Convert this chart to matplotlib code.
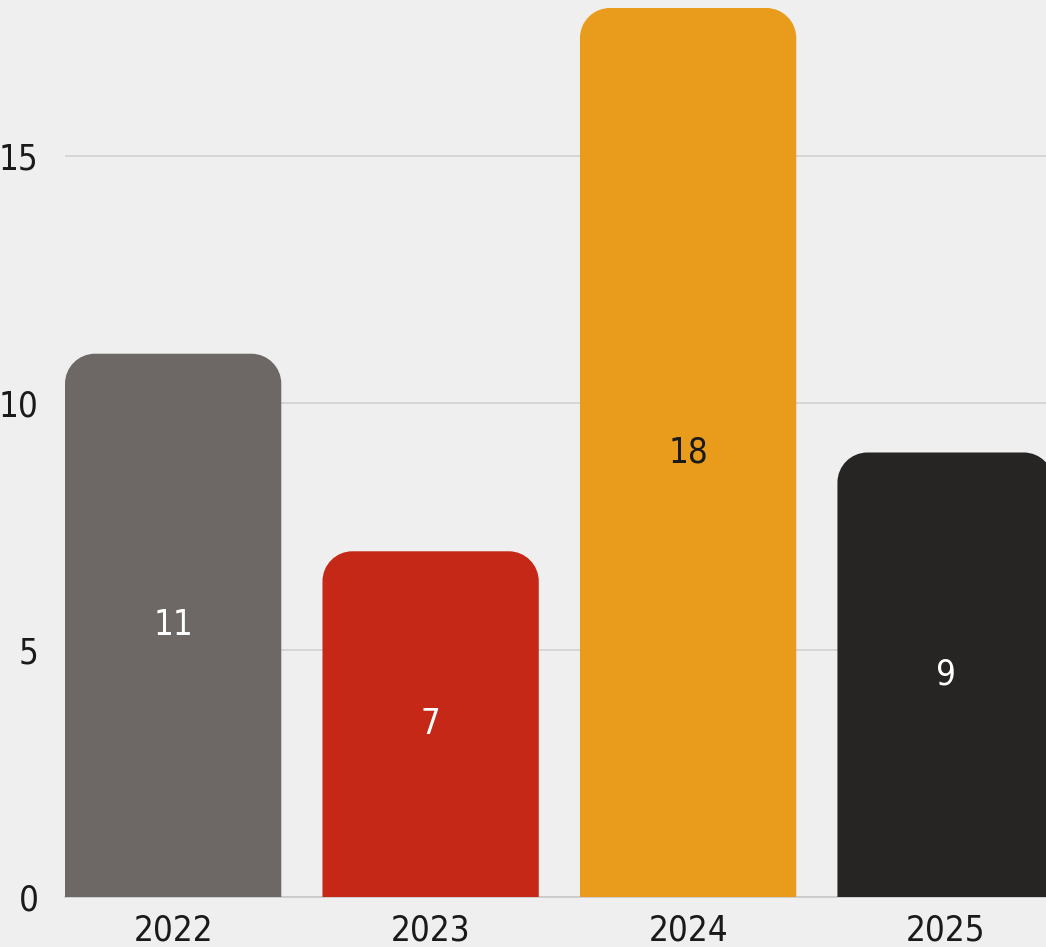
import matplotlib.pyplot as plt
from matplotlib.path import Path
from matplotlib.patches import PathPatch
from matplotlib import font_manager

years = ["2022", "2023", "2024", "2025"]
counts = [11, 7, 18, 9]
bar_colors = ["#6d6865", "#c52817", "#e99c1c", "#262523"]
label_colors = ["white", "white", "#1a1a1a", "white"]

W, H = 1046, 947
fig = plt.figure(figsize=(W / 100, H / 100), dpi=100)
fig.patch.set_facecolor("#efefef")
ax = fig.add_axes([65 / W, 50 / H, (W - 65) / W, (897 - 8) / H])
ax.set_facecolor("none")

# pick a narrow face if one is around
names = {f.name for f in font_manager.fontManager.ttflist}
fam = [n for n in ["Liberation Sans Narrow", "DejaVu Sans"] if n in names]
font = dict(family=fam, size=25, color="#1a1a1a", stretch="condensed")

bar_w = 0.84
ax.set_xlim(-bar_w / 2, 3.39)
ax.set_ylim(0, 18)

# pixel radius of the rounded top corners -> data units
px_x = (W - 65) / (3.39 + bar_w / 2)
px_y = (897 - 8) / 18
r = 30
rx, ry = r / px_x, r / px_y
k = 0.5523

for i, (v, c, lc) in enumerate(zip(counts, bar_colors, label_colors)):
    x0, x1 = i - bar_w / 2, i + bar_w / 2
    verts = [
        (x0, 0), (x0, v - ry),
        (x0, v - ry + k * ry), (x0 + rx - k * rx, v), (x0 + rx, v),
        (x1 - rx, v),
        (x1 - rx + k * rx, v), (x1, v - ry + k * ry), (x1, v - ry),
        (x1, 0), (x0, 0),
    ]
    codes = [Path.MOVETO, Path.LINETO,
             Path.CURVE4, Path.CURVE4, Path.CURVE4,
             Path.LINETO,
             Path.CURVE4, Path.CURVE4, Path.CURVE4,
             Path.LINETO, Path.CLOSEPOLY]
    ax.add_patch(PathPatch(Path(verts, codes), facecolor=c, edgecolor="none", zorder=3))
    ax.text(i, v / 2, str(v), ha="center", va="center", zorder=4,
            **{**font, "color": lc})

ax.set_yticks([0, 5, 10, 15])
ax.set_yticklabels(["0", "5", "10", "15"])
ax.set_xticks(range(len(years)))
ax.set_xticklabels(years)
for lbl in ax.get_xticklabels() + ax.get_yticklabels():
    lbl.set_fontfamily(font["family"])
    lbl.set_fontsize(font["size"])
    lbl.set_color(font["color"])
    lbl.set_fontstretch("condensed")
ax.tick_params(axis="y", length=0, pad=19)
ax.tick_params(axis="x", length=0, pad=12)

ax.grid(axis="y", color="#d2d2d2", linewidth=1.2, zorder=1)
for s in ["top", "right", "left"]:
    ax.spines[s].set_visible(False)
ax.spines["bottom"].set_color("#c8c8c8")
ax.spines["bottom"].set_linewidth(1.2)

fig.savefig("out.png", dpi=100, facecolor=fig.get_facecolor())
